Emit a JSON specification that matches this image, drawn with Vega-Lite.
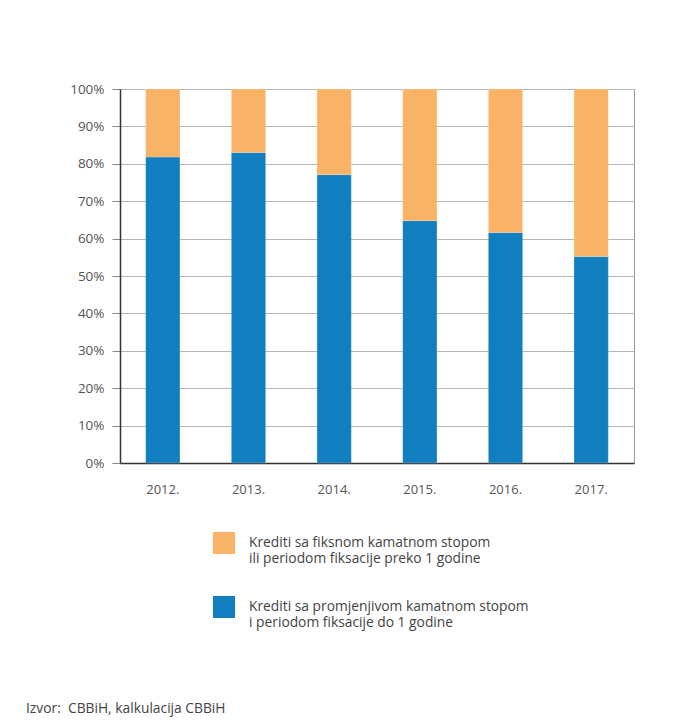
{
  "$schema": "https://vega.github.io/schema/vega-lite/v6.json",
  "width": 514,
  "height": 374,
  "autosize": {"type": "none"},
  "padding": {"left": 120, "top": 89, "right": 50, "bottom": 259},
  "background": "white",
  "config": {
    "font": "Open Sans",
    "view": {"stroke": "#9a9a9a", "strokeWidth": 1}
  },
  "title": {
    "text": "Izvor:\u00a0 CBBiH, kalkulacija CBBiH",
    "orient": "bottom",
    "anchor": "start",
    "frame": "group",
    "dx": -94,
    "offset": 72,
    "fontSize": 13.8,
    "fontWeight": "normal",
    "color": "#444444",
    "font": "Open Sans"
  },
  "data": {
    "values": [
      {"year": "2012.", "series": "Krediti sa promjenjivom kamatnom stopom i periodom fiksacije do 1 godine", "value": 81.8},
      {"year": "2012.", "series": "Krediti sa fiksnom kamatnom stopom ili periodom fiksacije preko 1 godine", "value": 18.2},
      {"year": "2013.", "series": "Krediti sa promjenjivom kamatnom stopom i periodom fiksacije do 1 godine", "value": 83.0},
      {"year": "2013.", "series": "Krediti sa fiksnom kamatnom stopom ili periodom fiksacije preko 1 godine", "value": 17.0},
      {"year": "2014.", "series": "Krediti sa promjenjivom kamatnom stopom i periodom fiksacije do 1 godine", "value": 77.1},
      {"year": "2014.", "series": "Krediti sa fiksnom kamatnom stopom ili periodom fiksacije preko 1 godine", "value": 22.9},
      {"year": "2015.", "series": "Krediti sa promjenjivom kamatnom stopom i periodom fiksacije do 1 godine", "value": 64.8},
      {"year": "2015.", "series": "Krediti sa fiksnom kamatnom stopom ili periodom fiksacije preko 1 godine", "value": 35.2},
      {"year": "2016.", "series": "Krediti sa promjenjivom kamatnom stopom i periodom fiksacije do 1 godine", "value": 61.6},
      {"year": "2016.", "series": "Krediti sa fiksnom kamatnom stopom ili periodom fiksacije preko 1 godine", "value": 38.4},
      {"year": "2017.", "series": "Krediti sa promjenjivom kamatnom stopom i periodom fiksacije do 1 godine", "value": 55.2},
      {"year": "2017.", "series": "Krediti sa fiksnom kamatnom stopom ili periodom fiksacije preko 1 godine", "value": 44.8}
    ]
  },
  "mark": {"type": "bar", "stroke": "white", "strokeWidth": 0.5, "strokeOpacity": 0.4},
  "encoding": {
    "x": {
      "field": "year",
      "type": "ordinal",
      "scale": {"paddingInner": 0.6, "paddingOuter": 0.3},
      "axis": {
        "title": null,
        "labelAngle": 0,
        "ticks": false,
        "domainColor": "#333333",
        "domainWidth": 1.5,
        "labelPadding": 20,
        "labelFontSize": 13,
        "labelColor": "#555555",
        "labelFont": "Open Sans"
      }
    },
    "y": {
      "field": "value",
      "type": "quantitative",
      "stack": "zero",
      "scale": {"domain": [0, 100], "nice": false},
      "axis": {
        "title": null,
        "values": [0, 10, 20, 30, 40, 50, 60, 70, 80, 90, 100],
        "labelExpr": "datum.value + '%'",
        "tickSize": 8,
        "tickColor": "#888888",
        "domainColor": "#333333",
        "domainWidth": 1.5,
        "gridColor": "#b5b5b5",
        "gridWidth": 1,
        "labelPadding": 8,
        "labelFontSize": 13.5,
        "labelColor": "#555555",
        "labelFont": "Open Sans"
      }
    },
    "color": {
      "field": "series",
      "type": "nominal",
      "scale": {
        "domain": [
          "Krediti sa fiksnom kamatnom stopom ili periodom fiksacije preko 1 godine",
          "Krediti sa promjenjivom kamatnom stopom i periodom fiksacije do 1 godine"
        ],
        "range": ["#F9B367", "#117EC0"]
      },
      "legend": {
        "title": null,
        "orient": "none",
        "legendX": 93,
        "legendY": 443,
        "symbolType": "square",
        "symbolSize": 484,
        "symbolStrokeWidth": 0,
        "labelOffset": 14,
        "rowPadding": 30,
        "labelFontSize": 13.8,
        "labelColor": "#444444",
        "labelFont": "Open Sans",
        "labelLimit": 400,
        "labelBaseline": "middle",
        "labelExpr": "indexof(datum.label, 'fiksnom') > 0 ? ['Krediti sa fiksnom kamatnom stopom', 'ili periodom fiksacije preko 1 godine'] : ['Krediti sa promjenjivom kamatnom stopom', 'i periodom fiksacije do 1 godine']"
      }
    },
    "order": {"field": "series", "sort": "descending"}
  }
}
